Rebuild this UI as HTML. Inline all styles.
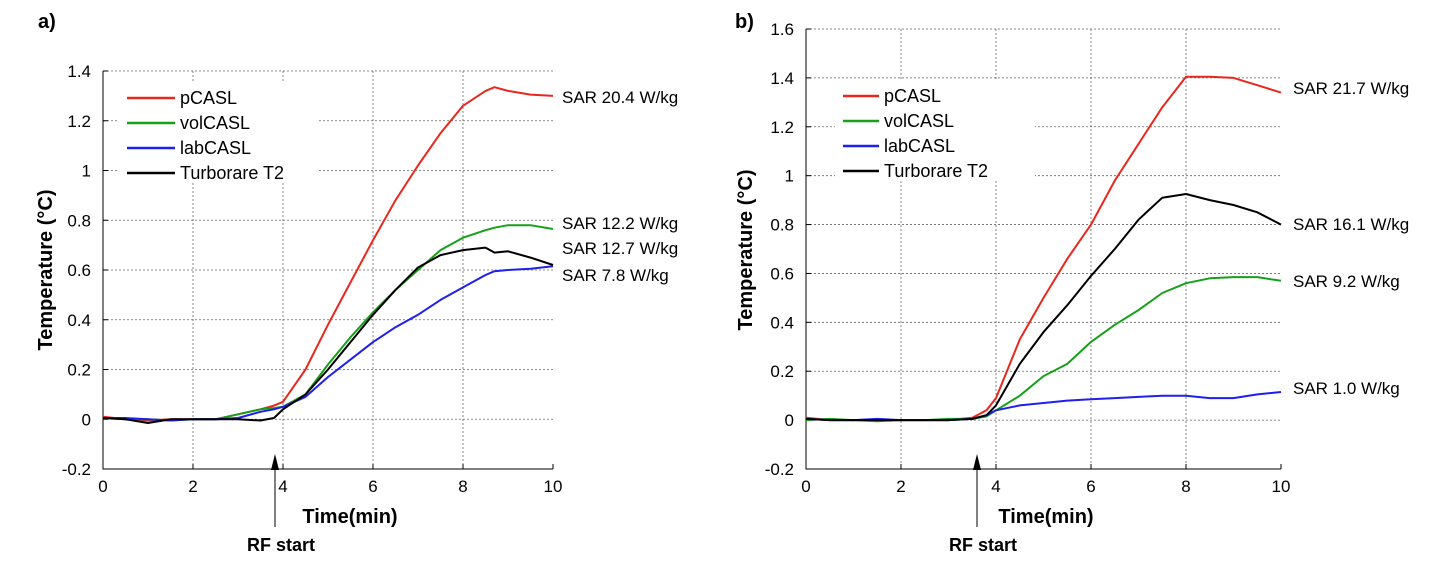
<!DOCTYPE html>
<html><head><meta charset="utf-8"><style>
body{margin:0;background:#fff}
svg{display:block;font-family:"Liberation Sans",Arial,sans-serif}
</style></head><body>
<svg id="chart" width="1444" height="564"></svg>
<script>
const tA=[0,0.5,1,1.5,2,2.5,3,3.5,3.8,4,4.5,5,5.5,6,6.5,7,7.5,8,8.5,8.7,9,9.5,10];
const aP=[0.01,0,-0.005,0,0,0,0.02,0.04,0.055,0.07,0.2,0.38,0.55,0.72,0.88,1.02,1.15,1.26,1.32,1.335,1.32,1.305,1.3];
const aV=[0.005,0,0,-0.005,0,0,0.02,0.04,0.045,0.05,0.1,0.22,0.33,0.43,0.52,0.6,0.68,0.73,0.76,0.77,0.78,0.78,0.765];
const aL=[0.005,0.005,0,-0.005,0,0,0.005,0.03,0.04,0.05,0.09,0.17,0.24,0.31,0.37,0.42,0.48,0.53,0.58,0.595,0.6,0.605,0.615];
const aT=[0.005,0,-0.015,0,0,0,0,-0.005,0.005,0.04,0.1,0.2,0.31,0.42,0.52,0.61,0.66,0.68,0.69,0.67,0.675,0.65,0.62];
const tB=[0,0.5,1,1.5,2,2.5,3,3.5,3.8,4,4.5,5,5.5,6,6.5,7,7.5,8,8.5,9,9.5,10];
const bP=[0.01,0,0,0,0,0,0,0.01,0.04,0.09,0.33,0.5,0.66,0.8,0.98,1.13,1.28,1.405,1.405,1.4,1.37,1.34];
const bV=[0,0.005,0,-0.005,0,0,0.005,0.005,0.015,0.04,0.1,0.18,0.23,0.32,0.39,0.45,0.52,0.56,0.58,0.585,0.585,0.57];
const bL=[0.005,0,0,0.005,0,0,0,0.005,0.02,0.04,0.06,0.07,0.08,0.085,0.09,0.095,0.1,0.1,0.09,0.09,0.105,0.115];
const bT=[0.005,0,0,0,0,0,0,0.005,0.02,0.06,0.23,0.36,0.47,0.59,0.7,0.82,0.91,0.925,0.9,0.88,0.85,0.8];
const xTicks=[0,2,4,6,8,10];
const yTicksA=[-0.2,0,0.2,0.4,0.6,0.8,1,1.2,1.4];
const yTicksB=[-0.2,0,0.2,0.4,0.6,0.8,1,1.2,1.4,1.6];
const names=["pCASL","volCASL","labCASL","Turborare T2"];
const colors=["#e8281e","#17a01a","#1f1ff0","#000"];
const sarA=["SAR 20.4 W/kg","SAR 12.2 W/kg","SAR 12.7 W/kg","SAR 7.8 W/kg"];
const sarB=["SAR 21.7 W/kg","SAR 16.1 W/kg","SAR 9.2 W/kg","SAR 1.0 W/kg"];
const NS="http://www.w3.org/2000/svg";
const svg=document.getElementById('chart');
function mk(tag,attrs,parent){const e=document.createElementNS(NS,tag);for(const k in attrs)e.setAttribute(k,attrs[k]);(parent||svg).appendChild(e);return e;}
function panel(cfg){
  const g=mk('g',{});
  
  
  const x=v=>cfg.x0+(v-0)/10*(cfg.x1-cfg.x0);
  const y=v=>cfg.y0+(v-(-0.2))/(cfg.ymax+0.2)*(cfg.y1-cfg.y0);
  xTicks.forEach(v=>{if(v>0&&v<10){const l=mk('line',{x1:x(v),x2:x(v),y1:y(cfg.ymax),y2:y(-0.2),stroke:'#666','stroke-width':0.8,'stroke-dasharray':'2,2'},g);
    }});
  cfg.yTicks.forEach(v=>{if(v>-0.2){const l=mk('line',{x1:x(0),x2:x(10),y1:y(v),y2:y(v),stroke:'#666','stroke-width':0.8,'stroke-dasharray':'2,2'},g);
    }});
  mk('rect',{x:cfg.lx-8,y:cfg.ly-16,width:200,height:100,fill:'#fff'},g);
  const ax=mk('path',{d:`M${x(0)},${y(cfg.ymax)}V${y(-0.2)}H${x(10)}`,stroke:'#000','stroke-width':1,fill:'none'},g);
  
  xTicks.forEach(v=>{mk('line',{x1:x(v),x2:x(v),y1:y(-0.2),y2:y(-0.2)-5,stroke:'#000'},g);
    const t=mk('text',{x:x(v),y:y(-0.2)+23,'text-anchor':'middle','font-size':17},g);t.textContent=v;
    });
  cfg.yTicks.forEach(v=>{mk('line',{x1:x(0),x2:x(0)+5,y1:y(v),y2:y(v),stroke:'#000'},g);
    const t=mk('text',{x:x(0)-12,y:y(v)+6,'text-anchor':'end','font-size':17},g);t.textContent=String(Math.round(v*10)/10);
    });
  cfg.series.forEach((s,i)=>{const d=s.map((v,k)=>(k?'L':'M')+x(cfg.t[k]).toFixed(1)+','+y(v).toFixed(1)).join('');
    const p=mk('path',{d:d,stroke:colors[i],'stroke-width':2,fill:'none','stroke-linejoin':'round'},g);
    });
  names.forEach((n,i)=>{const yy=cfg.ly+i*25;
    mk('line',{x1:cfg.lx,x2:cfg.lx+cfg.ll,y1:yy,y2:yy,stroke:colors[i],'stroke-width':2.5},g);
    const t=mk('text',{x:cfg.lx+cfg.ll+5,y:yy+6,'font-size':18},g);t.textContent=n;
    });
  cfg.sar.forEach((s,i)=>{const t=mk('text',{x:cfg.sx,y:cfg.sy[i],'font-size':17},g);t.textContent=s;
    });
  let t=mk('text',{x:cfg.ytx,y:cfg.yty,'font-size':20,'font-weight':'bold','text-anchor':'middle',transform:`rotate(-90 ${cfg.ytx} ${cfg.yty})`},g);
  t.textContent='Temperature (°C)';
  t=mk('text',{x:cfg.xtx,y:523,'font-size':20,'font-weight':'bold','text-anchor':'middle'},g);
  t.textContent='Time(min)';
  t=mk('text',{x:cfg.ax+6,y:551,'font-size':18,'font-weight':'bold','text-anchor':'middle'},g);
  t.textContent='RF start';
  mk('line',{x1:cfg.ax,x2:cfg.ax,y1:527,y2:458,stroke:'#000','stroke-width':1},g);
  const ar=mk('path',{d:`M${cfg.ax-4},470L${cfg.ax},454L${cfg.ax+4},470Z`,fill:'#000'},g);
  
  t=mk('text',{x:cfg.plx,y:28,'font-size':20,'font-weight':'bold'},g);
  t.textContent=cfg.pl;
}
panel({id:'panel-a',x0:103,x1:553,y0:469,y1:71,ymax:1.4,yTicks:yTicksA,t:tA,series:[aP,aV,aL,aT],
  lx:127,ly:98,ll:48,sar:sarA,sx:562,sy:[103,229,254,281],ytx:52,yty:270,xtx:350,ax:275,plx:38,pl:'a)'});
panel({id:'panel-b',x0:806,x1:1281,y0:469,y1:29,ymax:1.6,yTicks:yTicksB,t:tB,series:[bP,bV,bL,bT],
  lx:843,ly:96,ll:36,sar:sarB,sx:1293,sy:[94,230,287,394],ytx:752,yty:250,xtx:1046,ax:977,plx:735,pl:'b)'});
</script>
</body></html>
